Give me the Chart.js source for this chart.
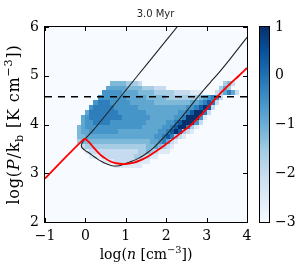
<!DOCTYPE html>
<html>
<head>
<meta charset="utf-8">
<script src="https://cdn.jsdelivr.net/npm/chart.js@4.4.1/dist/chart.umd.min.js"></script>
<style>
  body { margin: 0; background: #fff; }
  #wrap { position: relative; width: 306px; height: 273px; }
  canvas { position: absolute; top: 0; }
</style>
</head>
<body>
<div id="wrap">
  <canvas id="phase" width="306" height="273" style="left:0"></canvas>
  <canvas id="cbar" width="56" height="273" style="left:250px"></canvas>
</div>
<script>
const titleText = '3.0 Myr';
const xTicks = [-1, 0, 1, 2, 3, 4];
const yTicks = [2, 3, 4, 5, 6];
const cbTicks = [-3, -2, -1, 0, 1];

// histogram bins, 0.1 dex wide: column centres (log n) and row centres (log P)
const BIN = 0.1;
const binN = [-0.25, -0.15, -0.05, 0.05, 0.15, 0.25, 0.35, 0.45, 0.55, 0.65, 0.75, 0.85, 0.95,
  1.05, 1.15, 1.25, 1.35, 1.45, 1.55, 1.65, 1.75, 1.85, 1.95, 2.05, 2.15, 2.25, 2.35, 2.45,
  2.55, 2.65, 2.75, 2.85, 2.95, 3.05, 3.15, 3.25, 3.35, 3.45, 3.55, 3.65, 3.75];
const binP = [4.85, 4.75, 4.65, 4.55, 4.45, 4.35, 4.25, 4.15, 4.05, 3.95, 3.85, 3.75, 3.65,
  3.55, 3.45, 3.35, 3.25, 3.15];

// shade level of each cell (one char per column, '.' = empty)
const cells = [
  '.........44443332....................342',
  '........555554444333222.............353',
  '.......6666655554444333332222111...235752',
  '......6666666555554444433333333456762',
  '.....6777666665555554444444445567872',
  '....6777776666665555555555556678982',
  '...5777777766666665555555566789972',
  '..5677777777666666655555566799961',
  '..566777766666666655555667899962',
  '.456666666666666655555667899731',
  '.45566666665555555555667898321',
  '.445555555555555555566787321',
  '.3444444444444444445567521',
  '..23333333333333334454321',
  '...122222222222233432111',
  '....11122222222332211',
  '.......111222222111',
  '..........1111111'
];
// level -> log value on the colour bar
const levelLog = [-3, -2.5, -2.0, -1.6, -1.2, -0.85, -0.55, -0.2, 0.35, 1.0];

// thermal equilibrium curve (red)
const teqN = [-1, -0.5, -0.05, 0.0, 0.1, 0.2, 0.3, 0.4, 0.5, 0.6, 0.7, 0.8, 0.9, 1.0, 1.2, 1.4,
  1.6, 1.8, 2.0, 2.2, 2.4, 2.6, 2.8, 3.0, 3.2, 3.4, 3.6, 3.8, 4.0];
const teqP = [2.89, 3.32, 3.69, 3.70, 3.63, 3.53, 3.44, 3.36, 3.30, 3.25, 3.22, 3.20, 3.19, 3.19,
  3.22, 3.28, 3.37, 3.48, 3.60, 3.72, 3.85, 3.98, 4.14, 4.32, 4.51, 4.69, 4.85, 5.00, 5.16];

// thin black track
const trackN = [2.27, 1.8, 1.3, 0.88, 0.5, 0.2, 0.0, -0.06, -0.1, -0.08, -0.01, 0.1, 0.2, 0.3,
  0.4, 0.5, 0.6, 0.7, 0.8, 0.9, 1.0, 1.1, 1.3, 1.5, 1.7, 1.9, 2.1, 2.3, 2.5, 2.7, 2.9, 3.1, 3.3,
  3.5, 3.7, 4.0];
const trackP = [6.0, 5.52, 5.01, 4.58, 4.19, 3.89, 3.71, 3.65, 3.58, 3.52, 3.47, 3.41, 3.35, 3.29,
  3.24, 3.20, 3.17, 3.15, 3.15, 3.17, 3.20, 3.23, 3.30, 3.40, 3.53, 3.70, 3.88, 4.07, 4.27, 4.48,
  4.68, 4.87, 5.06, 5.26, 5.47, 5.79];

// dashed level
const dashN = [-1, 4];
const dashP = [4.57, 4.57];

const serif = '"DejaVu Serif", serif';
const blues = [[247,251,255],[222,235,247],[198,219,239],[158,202,225],[107,174,214],
  [66,146,198],[33,113,181],[8,81,156],[8,48,107]];

function bluesAt(t) {
  t = Math.max(0, Math.min(1, t)) * 8;
  const i = Math.min(7, Math.floor(t));
  const f = t - i;
  const c = blues[i].map((v, k) => Math.round(v + (blues[i + 1][k] - v) * f));
  return `rgb(${c[0]},${c[1]},${c[2]})`;
}

const fmt = v => v < 0 ? '\u2212' + Math.abs(v) : String(v);
const pts = (xs, ys) => xs.map((x, i) => ({ x, y: ys[i] }));

function drawRich(ctx, parts, cx, base, size) {
  const fontOf = p => {
    const s = p.s === 'sup' || p.s === 'sub' ? size * 0.7 : size;
    return `${p.s === 'i' ? 'italic ' : ''}${s}px ${serif}`;
  };
  let total = 0;
  parts.forEach(p => { ctx.font = fontOf(p); p.w = ctx.measureText(p.t).width; total += p.w; });
  let x = cx - total / 2;
  ctx.textAlign = 'left';
  ctx.textBaseline = 'alphabetic';
  parts.forEach(p => {
    ctx.font = fontOf(p);
    const dy = p.s === 'sup' ? -size * 0.42 : p.s === 'sub' ? size * 0.22 : 0;
    ctx.fillText(p.t, x, base + dy);
    x += p.w;
  });
}

const heatPlugin = {
  id: 'heat',
  beforeDatasetsDraw(chart) {
    const { ctx, chartArea: a, scales: { x, y } } = chart;
    ctx.save();
    ctx.fillStyle = bluesAt(0);
    ctx.fillRect(a.left, a.top, a.width, a.height);
    cells.forEach((row, r) => {
      for (let c = 0; c < row.length; c++) {
        if (row[c] === '.') continue;
        const v = levelLog[+row[c]];
        const x0 = Math.round(x.getPixelForValue(binN[c] - BIN / 2));
        const x1 = Math.round(x.getPixelForValue(binN[c] + BIN / 2));
        const y0 = Math.round(y.getPixelForValue(binP[r] - BIN / 2));
        const y1 = Math.round(y.getPixelForValue(binP[r] + BIN / 2));
        ctx.fillStyle = bluesAt((v + 3) / 4);
        ctx.fillRect(x0, y1, x1 - x0, y0 - y1);
      }
    });
    ctx.restore();
  },
  afterDraw(chart) {
    const { ctx, chartArea: a, scales: { x, y } } = chart;
    ctx.save();
    ctx.strokeStyle = '#000';
    ctx.lineWidth = 1;
    ctx.strokeRect(Math.round(a.left) - 0.5, Math.round(a.top) - 0.5, Math.round(a.width) + 1, Math.round(a.height) + 1);
    ctx.beginPath();
    xTicks.forEach(v => {
      const px = Math.round(x.getPixelForValue(v)) + 0.5;
      ctx.moveTo(px, a.bottom); ctx.lineTo(px, a.bottom - 4);
      ctx.moveTo(px, a.top); ctx.lineTo(px, a.top + 4);
    });
    yTicks.forEach(v => {
      const py = Math.round(y.getPixelForValue(v)) + 0.5;
      ctx.moveTo(a.left, py); ctx.lineTo(a.left + 4, py);
      ctx.moveTo(a.right, py); ctx.lineTo(a.right - 4, py);
    });
    ctx.stroke();

    ctx.fillStyle = '#000';
    drawRich(ctx, [{ t: 'log(' }, { t: 'n', s: 'i' }, { t: ' [cm' }, { t: '\u22123', s: 'sup' }, { t: '])' }],
      (a.left + a.right) / 2, 259, 14);

    ctx.save();
    ctx.translate(19, (a.top + a.bottom) / 2);
    ctx.rotate(-Math.PI / 2);
    ctx.letterSpacing = '0.8px';
    drawRich(ctx, [{ t: 'log(' }, { t: 'P', s: 'i' }, { t: '/k' }, { t: 'b', s: 'sub' }, { t: ' [K cm' },
      { t: '\u22123', s: 'sup' }, { t: '])' }], 0, 0, 16);
    ctx.restore();

    ctx.font = '10px "DejaVu Sans"';
    ctx.fillStyle = '#262626';
    ctx.textAlign = 'center';
    ctx.textBaseline = 'alphabetic';
    ctx.fillText(titleText, 155.5, 17);
    ctx.restore();
  }
};

const tickFont = { family: serif, size: 14 };

new Chart(document.getElementById('phase'), {
  type: 'scatter',
  data: {
    datasets: [
      { data: pts(teqN, teqP), showLine: true, borderColor: '#ff0000', borderWidth: 1.8, pointRadius: 0, tension: 0.25 },
      { data: pts(trackN, trackP), showLine: true, borderColor: '#222', borderWidth: 1.1, pointRadius: 0, tension: 0.25 },
      { data: pts(dashN, dashP), showLine: true, borderColor: '#000', borderWidth: 1.4, borderDash: [7, 6], pointRadius: 0 }
    ]
  },
  options: {
    responsive: false,
    animation: false,
    events: [],
    layout: { padding: { top: 27, right: 59, left: 0, bottom: 0 } },
    scales: {
      x: {
        type: 'linear', min: -1, max: 4,
        afterBuildTicks: s => { s.ticks = xTicks.map(v => ({ value: v })); },
        afterFit: s => { s.height = 51; s.paddingLeft = 0; s.paddingRight = 0; },
        grid: { display: false, drawTicks: false },
        border: { display: false },
        ticks: { font: tickFont, color: '#000', padding: 6, maxRotation: 0, autoSkip: false, callback: fmt }
      },
      y: {
        type: 'linear', min: 2, max: 6,
        afterBuildTicks: s => { s.ticks = yTicks.map(v => ({ value: v })); },
        afterFit: s => { s.width = 45; s.paddingTop = 0; s.paddingBottom = 0; },
        grid: { display: false, drawTicks: false },
        border: { display: false },
        ticks: { font: tickFont, color: '#000', padding: 6, autoSkip: false, callback: fmt }
      }
    },
    plugins: { legend: { display: false }, tooltip: { enabled: false } }
  },
  plugins: [heatPlugin]
});

const cbPlugin = {
  id: 'cb',
  beforeDatasetsDraw(chart) {
    const { ctx, chartArea: a, scales: { y } } = chart;
    const yb = y.getPixelForValue(cbTicks[0]);
    const yt = y.getPixelForValue(cbTicks[cbTicks.length - 1]);
    const g = ctx.createLinearGradient(0, yb, 0, yt);
    blues.forEach((c, i) => g.addColorStop(i / 8, `rgb(${c[0]},${c[1]},${c[2]})`));
    ctx.save();
    ctx.fillStyle = g;
    ctx.fillRect(a.left, a.top, a.width, a.height);
    ctx.strokeStyle = '#000';
    ctx.lineWidth = 1;
    ctx.strokeRect(Math.round(a.left) - 0.5, Math.round(a.top) - 0.5, Math.round(a.width) + 1, Math.round(a.height) + 1);
    ctx.restore();
  }
};

new Chart(document.getElementById('cbar'), {
  type: 'scatter',
  data: { datasets: [] },
  options: {
    responsive: false,
    animation: false,
    events: [],
    layout: { padding: { top: 27, bottom: 51, left: 10, right: 0 } },
    scales: {
      x: { display: false, min: 0, max: 1 },
      y: {
        position: 'right', min: -3, max: 1,
        afterBuildTicks: s => { s.ticks = cbTicks.map(v => ({ value: v })); },
        afterFit: s => { s.width = 37; s.paddingTop = 0; s.paddingBottom = 0; },
        grid: { display: false, drawTicks: false },
        border: { display: false },
        ticks: { font: tickFont, color: '#000', padding: 6, autoSkip: false, callback: fmt }
      }
    },
    plugins: { legend: { display: false }, tooltip: { enabled: false } }
  },
  plugins: [cbPlugin]
});
</script>
</body>
</html>
